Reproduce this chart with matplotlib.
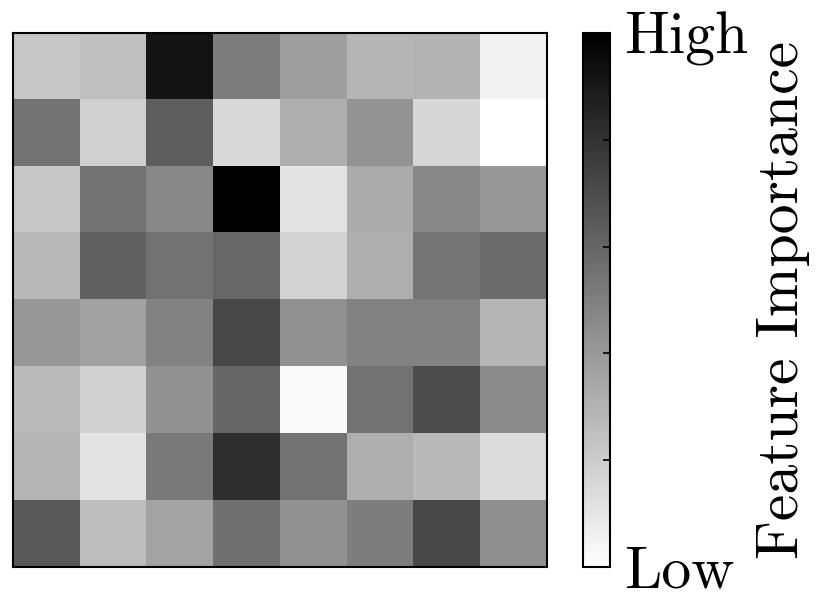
import numpy as np
import matplotlib
matplotlib.use("Agg")
import matplotlib.pyplot as plt

# Feature importance per cell (0 = low, 1 = high)
row0 = [0.22, 0.25, 0.92, 0.51, 0.38, 0.29, 0.30, 0.05]
row1 = [0.55, 0.18, 0.63, 0.15, 0.32, 0.42, 0.16, 0.00]
row2 = [0.22, 0.55, 0.47, 1.00, 0.11, 0.33, 0.47, 0.41]
row3 = [0.28, 0.62, 0.55, 0.59, 0.17, 0.32, 0.54, 0.58]
row4 = [0.41, 0.37, 0.49, 0.72, 0.43, 0.49, 0.49, 0.29]
row5 = [0.27, 0.18, 0.43, 0.60, 0.02, 0.55, 0.70, 0.45]
row6 = [0.29, 0.11, 0.52, 0.82, 0.55, 0.32, 0.28, 0.14]
row7 = [0.65, 0.26, 0.36, 0.56, 0.43, 0.51, 0.72, 0.44]

cbar_ticks = [0.0, 0.2, 0.4, 0.6, 0.8, 1.0]
cbar_labels = ["Low", "", "", "", "", "High"]

plt.rcParams["font.family"] = "serif"
plt.rcParams["font.serif"] = ["cmr10"]
plt.rcParams["mathtext.fontset"] = "cm"
plt.rcParams["axes.formatter.use_mathtext"] = True

data = np.array([row0, row1, row2, row3, row4, row5, row6, row7])

fig = plt.figure(figsize=(8.29, 6.14), dpi=100)
ax = fig.add_axes([0.0157, 0.0765, 0.644, 0.870])
cax = fig.add_axes([0.703, 0.0765, 0.0326, 0.870])

im = ax.imshow(data, cmap="gray_r", vmin=0, vmax=1, aspect="auto",
               interpolation="nearest")
ax.set_xticks([])
ax.set_yticks([])
for s in ax.spines.values():
    s.set_linewidth(1.5)

cb = fig.colorbar(im, cax=cax)
cb.set_ticks(cbar_ticks)
cb.set_ticklabels(cbar_labels)
cb.outline.set_linewidth(1.5)
cax.tick_params(direction="in", length=5, width=1.2, labelsize=43, pad=10)
cb.set_label("Feature Importance", fontsize=43, labelpad=6)

plt.savefig("out.png", dpi=100)
